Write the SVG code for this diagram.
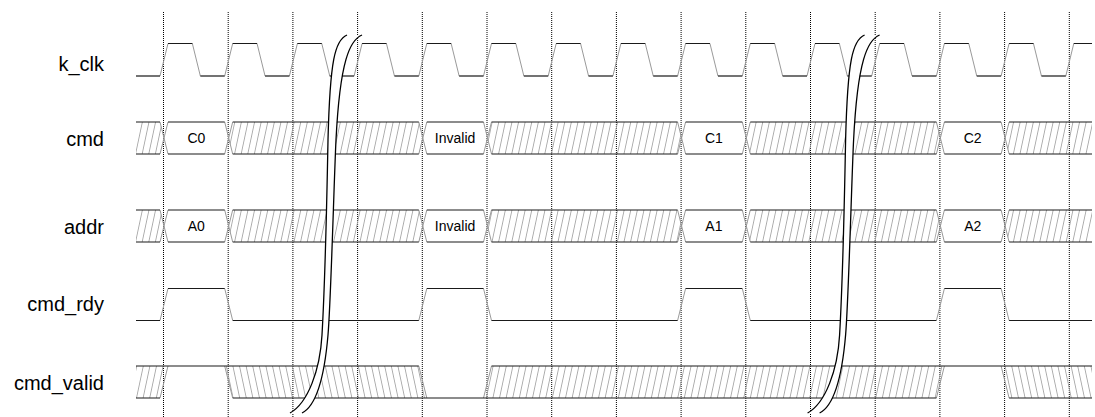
<svg xmlns="http://www.w3.org/2000/svg" width="1095" height="417" viewBox="0 0 1095 417">
<style>
.sig{fill:none;stroke:#1a1a1a;stroke-width:1.2}
.tr{fill:none;stroke:#9a9a9a;stroke-width:1}
.grid{fill:none;stroke:#000;stroke-width:1;stroke-dasharray:1 1}
.lbl{font-family:"Liberation Sans",Arial,sans-serif;font-size:20px;text-anchor:end;fill:#000}
.val{font-family:"Liberation Sans",Arial,sans-serif;font-size:14px;text-anchor:middle;fill:#000}
.hf{fill:url(#hatchF);stroke:none}
.hb{fill:url(#hatchB);stroke:none}
.brk{fill:none;stroke:#000;stroke-width:1.3}
</style>
<defs>
<pattern id="hatchF" patternUnits="userSpaceOnUse" width="6.6" height="40" patternTransform="skewX(-12)">
<line x1="3.3" y1="-1" x2="3.3" y2="41" stroke="#9a9a9a" stroke-width="0.8"/>
</pattern>
<pattern id="hatchB" patternUnits="userSpaceOnUse" width="6.6" height="40" patternTransform="skewX(12)">
<line x1="3.3" y1="-1" x2="3.3" y2="41" stroke="#9a9a9a" stroke-width="0.8"/>
</pattern>
<g id="busShape">
<polygon class="hf" points="136,122 160,122 164,138 160,154 136,154"/>
<polygon class="hf" points="228.7,138 232.7,122 418.8,122 422.8,138 418.8,154 232.7,154"/>
<polygon class="hf" points="487.5,138 491.5,122 677.6,122 681.6,138 677.6,154 491.5,154"/>
<polygon class="hf" points="746.3,138 750.3,122 936.4,122 940.4,138 936.4,154 750.3,154"/>
<polygon class="hf" points="1005.1,138 1009.1,122 1092,122 1092,154 1009.1,154"/>
<path class="tr" d="M160 122L168 154M160 154L168 122M224.7 122L232.7 154M224.7 154L232.7 122M418.8 122L426.8 154M418.8 154L426.8 122M483.5 122L491.5 154M483.5 154L491.5 122M677.6 122L685.6 154M677.6 154L685.6 122M742.3 122L750.3 154M742.3 154L750.3 122M936.4 122L944.4 154M936.4 154L944.4 122M1001.1 122L1009.1 154M1001.1 154L1009.1 122"/>
<path class="sig" d="M136 122H160M168 122H224.7M232.7 122H418.8M426.8 122H483.5M491.5 122H677.6M685.6 122H742.3M750.3 122H936.4M944.4 122H1001.1M1009.1 122H1092M136 154H160M168 154H224.7M232.7 154H418.8M426.8 154H483.5M491.5 154H677.6M685.6 154H742.3M750.3 154H936.4M944.4 154H1001.1M1009.1 154H1092"/>
</g>
<path id="brkFill" d="M347,35 C335,40 330,60 328,140 C326.5,220 324,300 322,335 C320,370 308,403 290,413 L302,413 C318,405 325,370 328,335 C331,300 334,180 336,140 C340,60 350,40 362,35 Z"/>
</defs>

<g id="grid">
<path class="grid" d="M163.5 12V417M228.2 12V417M292.9 12V417M357.6 12V417M422.3 12V417M487 12V417M551.7 12V417M616.4 12V417M681.1 12V417M745.8 12V417M810.5 12V417M875.2 12V417M939.9 12V417M1004.6 12V417M1069.3 12V417"/>
</g>

<g id="k_clk">
<text class="lbl" x="104" y="70.5">k_clk</text>
<polyline class="tr" points="136,76 160,76 168,43.5 192.35,43.5 200.35,76 224.7,76 232.7,43.5 257.05,43.5 265.05,76 289.4,76 297.4,43.5 321.75,43.5 329.75,76 354.1,76 362.1,43.5 386.45,43.5 394.45,76 418.8,76 426.8,43.5 451.15,43.5 459.15,76 483.5,76 491.5,43.5 515.85,43.5 523.85,76 548.2,76 556.2,43.5 580.55,43.5 588.55,76 612.9,76 620.9,43.5 645.25,43.5 653.25,76 677.6,76 685.6,43.5 709.95,43.5 717.95,76 742.3,76 750.3,43.5 774.65,43.5 782.65,76 807,76 815,43.5 839.35,43.5 847.35,76 871.7,76 879.7,43.5 904.05,43.5 912.05,76 936.4,76 944.4,43.5 968.75,43.5 976.75,76 1001.1,76 1009.1,43.5 1033.45,43.5 1041.45,76 1065.8,76 1073.8,43.5 1092,43.5"/>
<path class="sig" d="M136 76H160M168 43.5H192.35M200.35 76H224.7M232.7 43.5H257.05M265.05 76H289.4M297.4 43.5H321.75M329.75 76H354.1M362.1 43.5H386.45M394.45 76H418.8M426.8 43.5H451.15M459.15 76H483.5M491.5 43.5H515.85M523.85 76H548.2M556.2 43.5H580.55M588.55 76H612.9M620.9 43.5H645.25M653.25 76H677.6M685.6 43.5H709.95M717.95 76H742.3M750.3 43.5H774.65M782.65 76H807M815 43.5H839.35M847.35 76H871.7M879.7 43.5H904.05M912.05 76H936.4M944.4 43.5H968.75M976.75 76H1001.1M1009.1 43.5H1033.45M1041.45 76H1065.8M1073.8 43.5H1092"/>
</g>

<g id="cmd">
<text class="lbl" x="104" y="145.5">cmd</text>
<use href="#busShape"/>
<text class="val" x="196.35" y="143">C0</text>
<text class="val" x="455.1" y="143">Invalid</text>
<text class="val" x="713.9" y="143">C1</text>
<text class="val" x="972.7" y="143">C2</text>
</g>

<g id="addr">
<text class="lbl" x="104" y="233.5">addr</text>
<use href="#busShape" transform="translate(0,88)"/>
<text class="val" x="196.35" y="231">A0</text>
<text class="val" x="455.1" y="231">Invalid</text>
<text class="val" x="713.9" y="231">A1</text>
<text class="val" x="972.7" y="231">A2</text>
</g>

<g id="cmd_rdy">
<text class="lbl" x="104" y="311">cmd_rdy</text>
<path class="tr" d="M160 320.5L168 288.5M224.7 288.5L232.7 320.5M418.8 320.5L426.8 288.5M483.5 288.5L491.5 320.5M677.6 320.5L685.6 288.5M742.3 288.5L750.3 320.5M936.4 320.5L944.4 288.5M1001.1 288.5L1009.1 320.5"/>
<path class="sig" d="M136 320.5H160M168 288.5H224.7M232.7 320.5H418.8M426.8 288.5H483.5M491.5 320.5H677.6M685.6 288.5H742.3M750.3 320.5H936.4M944.4 288.5H1001.1M1009.1 320.5H1092"/>
</g>

<g id="cmd_valid">
<text class="lbl" x="104" y="390">cmd_valid</text>
<polygon class="hf" points="136,366 168,366 160,398 136,398"/>
<polygon class="hb" points="224.7,366 418.8,366 426.8,398 232.7,398"/>
<polygon class="hf" points="491.5,366 944.4,366 936.4,398 483.5,398"/>
<polygon class="hb" points="1001.1,366 1092,366 1092,398 1009.1,398"/>
<path class="tr" d="M160 398L168 366M224.7 366L232.7 398M418.8 366L426.8 398M483.5 398L491.5 366M936.4 398L944.4 366M1001.1 366L1009.1 398"/>
<path class="sig" d="M136 366H418.8M491.5 366H1092M136 398H160M232.7 398H936.4M1009.1 398H1092"/>
</g>

<g id="break1">
<use href="#brkFill" fill="#fff"/>
<path class="brk" d="M347,35 C335,40 330,60 328,140 C326.5,220 324,300 322,335 C320,370 308,403 290,413"/>
<path class="brk" d="M362,35 C350,40 340,60 336,140 C334,180 331,300 328,335 C325,370 318,405 302,413"/>
</g>

<g id="break2" transform="translate(517.6,0)">
<use href="#brkFill" fill="#fff"/>
<path class="brk" d="M347,35 C335,40 330,60 328,140 C326.5,220 324,300 322,335 C320,370 308,403 290,413"/>
<path class="brk" d="M362,35 C350,40 340,60 336,140 C334,180 331,300 328,335 C325,370 318,405 302,413"/>
</g>
</svg>
